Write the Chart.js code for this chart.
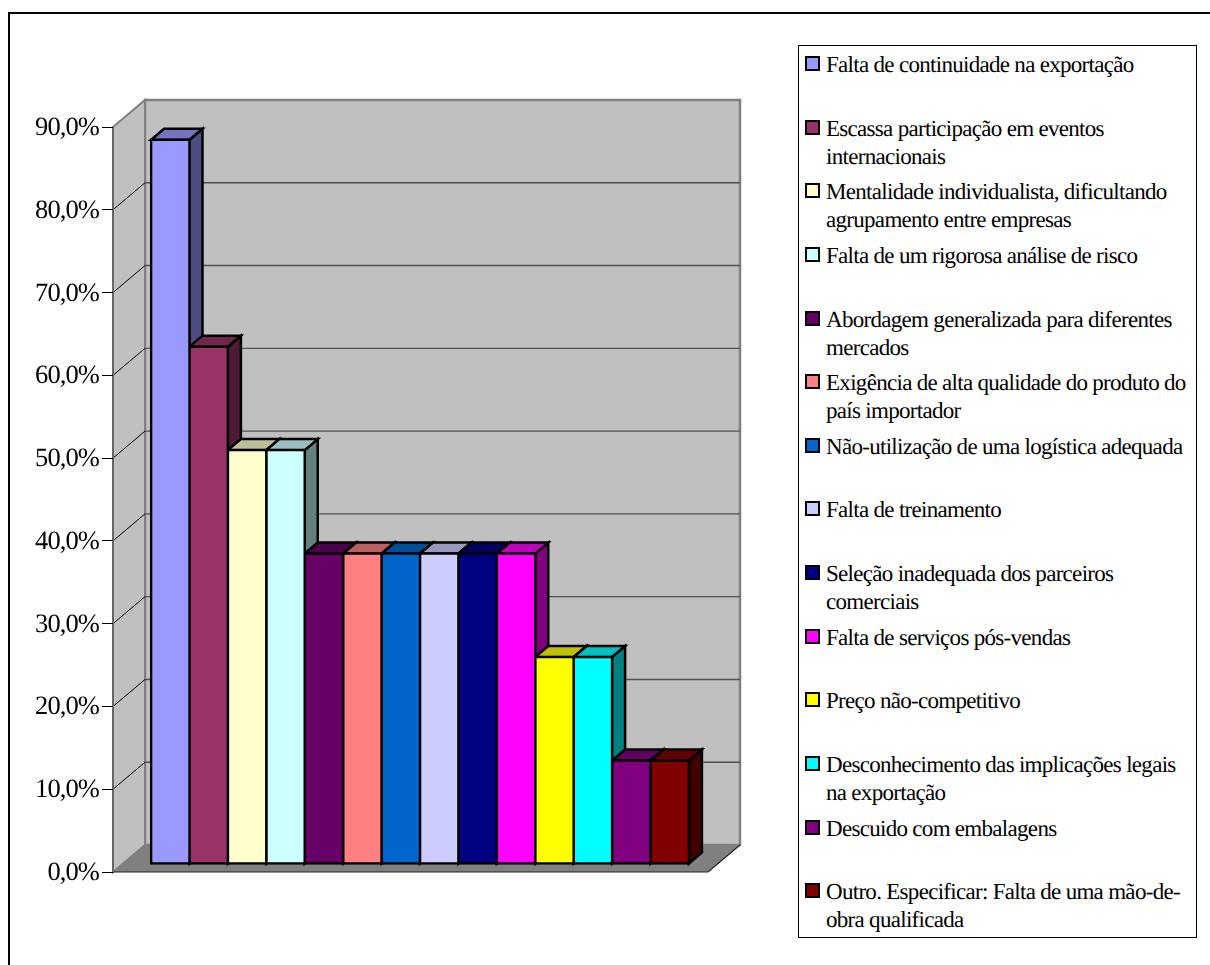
<!DOCTYPE html>
<html>
<head>
<meta charset="utf-8">
<title>Chart</title>
<script src="https://cdn.jsdelivr.net/npm/chart.js@4"></script>
<style>
  html,body{margin:0;padding:0;background:#fff;overflow:hidden;width:1210px;height:965px}
  #wrap{position:relative;width:1210px;height:965px;overflow:hidden}
  #c{display:block;position:absolute;left:0;top:0}
  #frame{position:absolute;left:8px;top:12px;width:1400px;height:1400px;border:2px solid #000}
  #legend{position:absolute;left:798px;top:45px;width:397px;height:891px;border:1px solid #000;background:#fff;
    display:grid;grid-template-rows:repeat(14,1fr);font-family:"Liberation Serif",serif;font-size:23px;letter-spacing:-0.7px;line-height:28px;color:#000;
    text-rendering:geometricPrecision}
  .row{position:relative;padding:5px 0 0 27px;white-space:pre-line}
  .sw{position:absolute;left:6px;top:10px;width:11px;height:11px;border:2.5px solid #000}
</style>
</head>
<body>
<div id="wrap">
  <div id="frame"></div>
  <canvas id="c" width="1210" height="965"></canvas>
  <div id="legend"></div>
</div>
<script>
const seriesNames = [
  'Falta de continuidade na exportação',
  'Escassa participação em eventos\ninternacionais',
  'Mentalidade individualista, dificultando\nagrupamento entre empresas',
  'Falta de um rigorosa análise de risco',
  'Abordagem generalizada para diferentes\nmercados',
  'Exigência de alta qualidade do produto do\npaís importador',
  'Não-utilização de uma logística adequada',
  'Falta de treinamento',
  'Seleção inadequada dos parceiros\ncomerciais',
  'Falta de serviços pós-vendas',
  'Preço não-competitivo',
  'Desconhecimento das implicações legais\nna exportação',
  'Descuido com embalagens',
  'Outro. Especificar: Falta de uma mão-de-\nobra qualificada',
];
const seriesValues = [87.5, 62.5, 50, 50, 37.5, 37.5, 37.5, 37.5, 37.5, 37.5, 25, 25, 12.5, 12.5];
const seriesColors = ['#9999FF','#993366','#FFFFCC','#CCFFFF','#660066','#FF8080','#0066CC','#CCCCFF','#000080','#FF00FF','#FFFF00','#00FFFF','#800080','#800000'];

// 3d look: depth of the box, offset of the bars' front plane, depth of a bar
const BOX_DX = 32, BOX_DY = 27;
const FRONT_DX = 9.5, FRONT_DY = 8;
const BAR_DX = 13, BAR_DY = 11;
const BAR_LINE = 2.5;

function shade(hex, f){
  const n = parseInt(hex.slice(1), 16);
  const ch = s => Math.round(((n >> s) & 255) * f);
  return `rgb(${ch(16)},${ch(8)},${ch(0)})`;
}
function poly(ctx, pts, fill, stroke, lw){
  ctx.beginPath();
  pts.forEach((p, i) => i ? ctx.lineTo(p[0], p[1]) : ctx.moveTo(p[0], p[1]));
  ctx.closePath();
  if (fill){ ctx.fillStyle = fill; ctx.fill(); }
  if (stroke){ ctx.strokeStyle = stroke; ctx.lineWidth = lw; ctx.stroke(); }
}

const box3d = {
  id: 'box3d',
  beforeDraw(chart){
    const {ctx, chartArea: a, scales: {y}} = chart;
    const L = a.left, R = a.right, T = a.top, B = a.bottom;
    ctx.save();
    // back wall, side wall, floor
    poly(ctx, [[L+BOX_DX,T-BOX_DY],[R+BOX_DX,T-BOX_DY],[R+BOX_DX,B-BOX_DY],[L+BOX_DX,B-BOX_DY]], '#C0C0C0', '#808080', 2.5);
    poly(ctx, [[L,T],[L+BOX_DX,T-BOX_DY],[L+BOX_DX,B-BOX_DY],[L,B]], '#C0C0C0', '#808080', 2);
    poly(ctx, [[L,B],[R,B],[R+BOX_DX,B-BOX_DY],[L+BOX_DX,B-BOX_DY]], '#808080', null, 0);
    // grid lines, skip the first and the last tick
    y.ticks.forEach(t => {
      if (t.value === 0 || t.value === y.max) return;
      const py = y.getPixelForValue(t.value);
      ctx.beginPath();
      ctx.moveTo(L, py); ctx.lineTo(L+BOX_DX, py-BOX_DY);
      ctx.strokeStyle = '#000'; ctx.lineWidth = 1; ctx.stroke();
      ctx.beginPath();
      ctx.moveTo(L+BOX_DX, py-BOX_DY); ctx.lineTo(R+BOX_DX, py-BOX_DY);
      ctx.strokeStyle = '#505050'; ctx.lineWidth = 1.4; ctx.stroke();
    });
    // floor edges
    ctx.strokeStyle = '#222'; ctx.lineWidth = 1.2;
    ctx.beginPath();
    ctx.moveTo(L, B); ctx.lineTo(R, B); ctx.lineTo(R+BOX_DX, B-BOX_DY);
    ctx.stroke();
    ctx.beginPath();
    ctx.moveTo(L, B); ctx.lineTo(L, T);
    ctx.strokeStyle = '#666'; ctx.lineWidth = 2; ctx.stroke();
    ctx.restore();
    // tighter tick labels, the source font runs narrow
    ctx.letterSpacing = '-0.9px';
    ctx.textRendering = 'geometricPrecision';
  },
  beforeDatasetsDraw(chart){
    const ctx = chart.ctx;
    ctx.save();
    ctx.translate(FRONT_DX, -FRONT_DY);
    ctx.lineJoin = 'miter';
    // tops and sides go left to right, chart.js paints the front faces on top afterwards
    chart.data.datasets.forEach((ds, i) => {
      const el = chart.getDatasetMeta(i).data[0];
      const {x, y, base, width} = el.getProps(['x','y','base','width'], true);
      const l = x - width/2, r = x + width/2, t = y, b = base;
      poly(ctx, [[r,t],[r+BAR_DX,t-BAR_DY],[r+BAR_DX,b-BAR_DY],[r,b]], shade(seriesColors[i], 0.5), '#000', BAR_LINE);
      poly(ctx, [[l,t],[r,t],[r+BAR_DX,t-BAR_DY],[l+BAR_DX,t-BAR_DY]], shade(seriesColors[i], 0.75), '#000', BAR_LINE);
    });
  },
  afterDatasetsDraw(chart){
    chart.ctx.restore();
  }
};

new Chart(document.getElementById('c'), {
  type: 'bar',
  data: {
    labels: [''],
    datasets: seriesNames.map((n, i) => ({
      label: n.replace('\n', ' '),
      data: [seriesValues[i]],
      backgroundColor: seriesColors[i],
      borderColor: '#000',
      borderWidth: BAR_LINE,
      borderSkipped: false,
      inflateAmount: BAR_LINE / 2,
      categoryPercentage: 0.904,
      barPercentage: 1,
      clip: false,
    }))
  },
  options: {
    responsive: false,
    animation: false,
    layout: { padding: { top: 127, right: 502, bottom: 93, left: 0 } },
    plugins: { legend: { display: false }, tooltip: { enabled: false } },
    scales: {
      x: { display: false },
      y: {
        min: 0, max: 90,
        afterFit: s => { s.width = 113; },
        border: { display: false },
        grid: { drawOnChartArea: false, drawTicks: true, tickLength: 11, color: '#000', lineWidth: 1 },
        ticks: {
          stepSize: 10, padding: 3, color: '#000', labelOffset: 1,
          font: { family: '"Liberation Serif", serif', size: 26.5 },
          callback: v => v.toFixed(1).replace('.', ',') + '%',
        },
      },
    },
  },
  plugins: [box3d],
});

const legendEl = document.getElementById('legend');
seriesNames.forEach((n, i) => {
  const row = document.createElement('div');
  row.className = 'row';
  row.textContent = n;
  const sw = document.createElement('span');
  sw.className = 'sw';
  sw.style.background = seriesColors[i];
  row.appendChild(sw);
  legendEl.appendChild(row);
});
</script>
</body>
</html>
